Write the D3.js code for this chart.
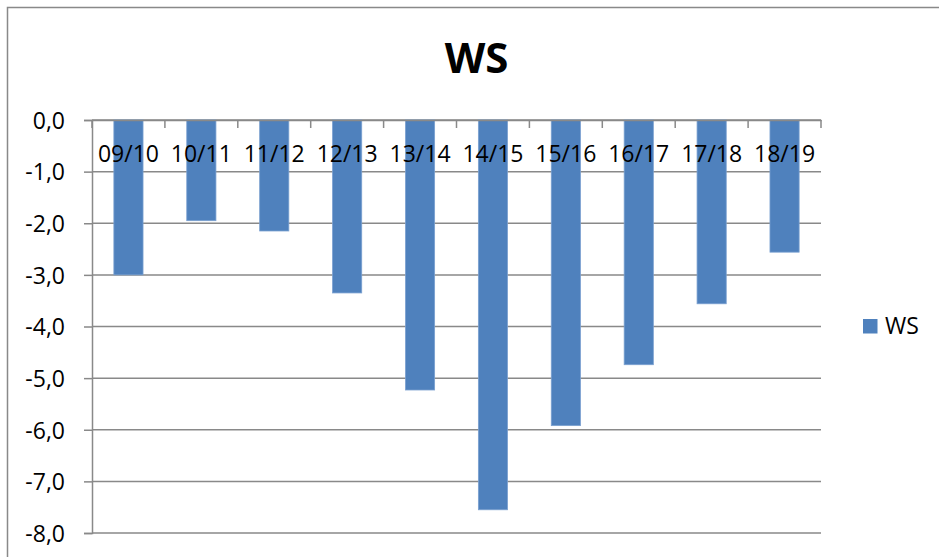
<!DOCTYPE html>
<html>
<head>
<meta charset="utf-8">
<script src="https://cdn.jsdelivr.net/npm/d3@7"></script>
<style>
  html, body { margin: 0; padding: 0; background: #fff; }
  svg { display: block; font-family: "Open Sans", sans-serif; }
</style>
</head>
<body>
<svg id="chart" width="939" height="557"></svg>
<script>
// Season labels and WS values
const seasons = ["09/10", "10/11", "11/12", "12/13", "13/14", "14/15", "15/16", "16/17", "17/18", "18/19"];
const wsValues = [-3.0, -1.95, -2.15, -3.35, -5.23, -7.55, -5.92, -4.74, -3.56, -2.56];
const yTicks = [0, -1, -2, -3, -4, -5, -6, -7, -8];
const seriesName = "WS";
const chartTitle = "WS";

const svg = d3.select("#chart");
const W = 939, H = 557;
const plot = { left: 92, right: 821, top: 120, bottom: 533 };
const gray = "#898989";
const barColor = "#4F81BD";

// Chart frame
svg.append("rect")
  .attr("x", 7.5).attr("y", 7.5)
  .attr("width", W).attr("height", H)
  .attr("fill", "none").attr("stroke", gray).attr("stroke-width", 1.5);

const x = d3.scaleBand().domain(seasons).range([plot.left, plot.right]).paddingInner(0.6).paddingOuter(0.3);
const xOuter = d3.scaleBand().domain(seasons).range([plot.left, plot.right]);
const y = d3.scaleLinear().domain([-8, 0]).range([plot.bottom, plot.top]);

// Horizontal gridlines
svg.append("g")
  .selectAll("line")
  .data(yTicks)
  .join("line")
  .attr("x1", plot.left).attr("x2", plot.right)
  .attr("y1", d => y(d)).attr("y2", d => y(d))
  .attr("stroke", gray).attr("stroke-width", 1.5);

// Y axis
const yAxis = svg.append("g")
  .attr("transform", `translate(${plot.left},0)`)
  .call(d3.axisLeft(y).tickValues(yTicks).tickSize(8).tickPadding(19)
    .tickFormat(d => d3.format(".1f")(d).replace(".", ",").replace("−", "-")));
yAxis.select(".domain").attr("stroke", gray).attr("stroke-width", 1.5);
yAxis.selectAll(".tick line").attr("stroke", gray).attr("stroke-width", 1.5);
yAxis.selectAll(".tick text")
  .attr("fill", "#000").style("font-size", "23px").style("font-family", "'Open Sans', sans-serif")
  .attr("dy", "0.36em");

// Bars
svg.append("g")
  .selectAll("rect")
  .data(seasons.map((s, i) => ({ s, v: wsValues[i] })))
  .join("rect")
  .attr("x", d => xOuter(d.s) + xOuter.bandwidth() * 0.3)
  .attr("width", xOuter.bandwidth() * 0.4)
  .attr("y", d => y(0))
  .attr("height", d => y(d.v) - y(0))
  .attr("fill", barColor)
  .attr("stroke", "#7aa0d0").attr("stroke-width", 0.8);

// X axis along zero line, ticks pointing down
const xAxis = svg.append("g")
  .attr("transform", `translate(0,${y(0)})`)
  .call(d3.axisBottom(xOuter).tickSize(0).tickFormat(""));
xAxis.select(".domain").attr("stroke", gray).attr("stroke-width", 1.5);
xAxis.selectAll(".tick").remove();
svg.append("g")
  .selectAll("line")
  .data(seasons.concat(["end"]))
  .join("line")
  .attr("x1", (d, i) => plot.left + i * xOuter.step())
  .attr("x2", (d, i) => plot.left + i * xOuter.step())
  .attr("y1", y(0)).attr("y2", y(0) + 8)
  .attr("stroke", gray).attr("stroke-width", 1.5);

// Category labels
svg.append("g")
  .selectAll("text")
  .data(seasons)
  .join("text")
  .attr("x", d => xOuter(d) + xOuter.bandwidth() / 2)
  .attr("y", 162)
  .attr("text-anchor", "middle")
  .style("font-size", "23px")
  .attr("fill", "#000")
  .text(d => d);

// Title
svg.append("text")
  .attr("x", 476.5).attr("y", 73)
  .attr("text-anchor", "middle")
  .style("font-size", "42px").style("font-weight", "bold")
  .attr("fill", "#000")
  .text(chartTitle);

// Legend
const legend = svg.append("g").attr("transform", "translate(863,319)");
legend.append("rect").attr("width", 14.5).attr("height", 14.5).attr("fill", barColor);
legend.append("text").attr("x", 22).attr("y", 14.5)
  .style("font-size", "23px").attr("fill", "#000").text(seriesName);
</script>
</body>
</html>
